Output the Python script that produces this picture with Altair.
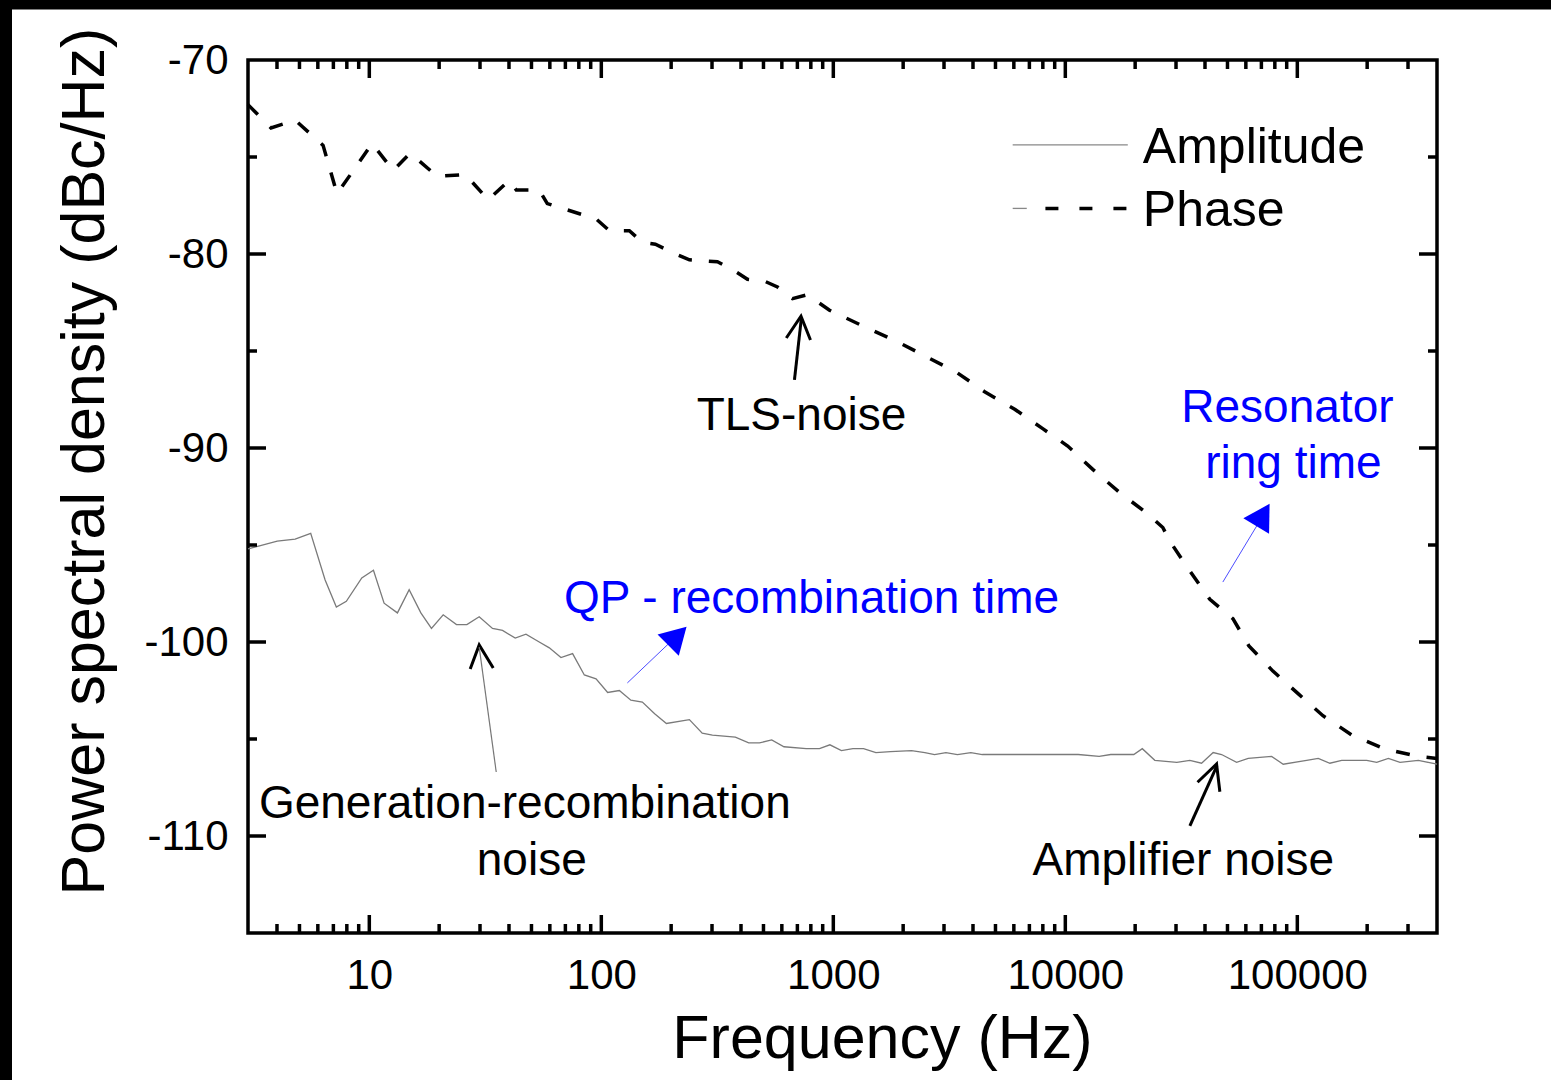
import altair as alt
import pandas as pd

FONT = "Liberation Sans, Arial, Helvetica, sans-serif"
W, H = 1189, 873
XDOM = [3, 400000]
YDOM = [-115, -70]

# ---------------- data ----------------
amp_f = [3.00, 3.24, 4.01, 4.79, 5.59, 6.45, 7.21, 7.96, 9.28, 10.42,
         11.58, 13.22, 14.85, 16.68, 18.53, 20.82, 23.75, 26.34, 29.76, 33.97,
         37.52, 42.56, 47.34, 54.0, 59.7, 67.0, 75.2, 84.5, 94.9, 106.5,
         119.6, 134.1, 150.3, 169.8, 190.8, 239.7, 272.2, 301.2, 378.2, 431.9,
         480.3, 542.5, 612.9, 764.2, 871.9, 966.7, 1084, 1215, 1350, 1526,
         1764, 2173, 2481, 2731, 3058, 3427, 3915, 4389, 5306, 6421,
         7755, 9385, 11360, 13990, 15700, 19730, 21470, 24310, 30240, 34420,
         38660, 43380, 47160, 54730, 61420, 77480, 86940, 109700, 123100, 138200,
         155300, 199100, 219900, 246800, 277100, 332400, 400000]
amp_db = [-95.2, -95.1, -94.8, -94.7, -94.4, -96.8, -98.2, -97.9, -96.7, -96.3,
          -98.0, -98.5, -97.3, -98.5, -99.3, -98.6, -99.1, -99.1, -98.7, -99.3,
          -99.4, -99.8, -99.6, -100.0, -100.3, -100.8, -100.6, -101.7, -101.9, -102.6,
          -102.5, -103.0, -103.1, -103.7, -104.2, -104.0, -104.7, -104.8, -104.9, -105.2,
          -105.2, -105.05, -105.4, -105.5, -105.5, -105.3, -105.6, -105.5, -105.5, -105.7,
          -105.65, -105.6, -105.7, -105.8, -105.7, -105.8, -105.7, -105.8, -105.8, -105.8,
          -105.8, -105.8, -105.8, -105.9, -105.8, -105.8, -105.5, -106.1, -106.2, -106.1,
          -106.25, -105.7, -105.8, -106.2, -106.0, -105.9, -106.3, -106.1, -106.0, -106.25,
          -106.1, -106.1, -106.2, -106.0, -106.2, -106.1, -106.3]

ph_f = [3.0, 3.77, 4.79, 6.32, 7.26, 10.28, 12.67, 15.0, 19.61, 25.9,
        32.54, 40.1, 43.0, 54.0, 58.5, 95.2, 108.3, 132.1, 150.3, 171.0,
        200.4, 239.7, 316.5, 367.4, 426.5, 505.0, 574.4, 666.8, 774.0, 962.9,
        1391, 1874, 2524, 3400, 4490, 6050, 7989, 10240, 13130, 17170,
        22670, 26320, 28210, 33750, 41980, 52770, 61840, 78480, 101600, 128970,
        172000, 236400, 331400, 400000]
ph_db = [-72.3, -73.5, -73.1, -74.4, -76.9, -74.3, -75.7, -74.8, -76.0, -75.9,
         -77.2, -76.2, -76.7, -76.7, -77.4, -78.2, -78.8, -78.8, -79.4, -79.5,
         -79.9, -80.3, -80.4, -80.8, -81.3, -81.4, -81.7, -82.3, -82.1, -82.9,
         -83.8, -84.5, -85.3, -86.1, -87.1, -88.0, -89.0, -89.9, -91.1, -92.3,
         -93.4, -94.1, -94.8, -96.2, -97.8, -98.8, -100.2, -101.5, -102.7, -103.8,
         -104.8, -105.5, -105.9, -106.0]

x_labels = [10, 100, 1000, 10000, 100000]
x_minor = [4, 5, 6, 7, 8, 9, 20, 30, 40, 50, 60, 70, 80, 90,
           200, 300, 400, 500, 600, 700, 800, 900,
           2000, 3000, 4000, 5000, 6000, 7000, 8000, 9000,
           20000, 30000, 40000, 50000, 60000, 70000, 80000, 90000,
           200000, 300000]
y_labels = [-70, -80, -90, -100, -110]
y_major = [-80, -90, -100, -110]
y_minor = [-75, -85, -95, -105]

# annotations (data coordinates)
black_text = ["TLS-noise", "Generation-recombination", "noise", "Amplifier noise"]
black_text_f = [729.2, 46.8, 50.13, 32260]
black_text_db = [-89.07, -109.07, -112.01, -112.01]

blue_text = ["QP - recombination time", "Resonator", "ring time"]
blue_text_f = [805.4, 90640, 96200]
blue_text_db = [-98.52, -88.64, -91.55]

legend_text = ["Amplitude", "Phase"]
legend_text_f = [21580, 21580]
legend_text_db = [-75.31, -78.56]

# arrow polylines: (group, f, dB)
black_arrows = [
    ("tls_shaft", 680.0, -86.49), ("tls_shaft", 729.2, -83.25),
    ("tls_head", 627.1, -84.33), ("tls_head", 725.6, -83.20), ("tls_head", 797.1, -84.43),
    ("gr_head", 27.22, -101.39), ("gr_head", 29.76, -100.15), ("gr_head", 34.21, -101.34),
    ("amp_shaft", 34420, -109.48), ("amp_shaft", 45010, -106.39),
    ("amp_head", 37150, -107.23), ("amp_head", 44870, -106.29), ("amp_head", 46360, -107.72),
]
gray_arrows = [("gr_shaft", 35.24, -106.70), ("gr_shaft", 29.76, -100.26)]
blue_arrows = [("qp_shaft", 129.5, -102.11), ("qp_shaft", 196.5, -100.05),
               ("res_shaft", 47750, -96.91), ("res_shaft", 67610, -93.92)]
blue_heads_f = [212.7, 71060]
blue_heads_db = [-99.69, -93.45]
blue_heads_angle = [45, 31]

# legend sample lines
leg_amp = {"f": 5931, "f2": 18590, "db": -74.38}
leg_ph_gray = {"f": 5931, "f2": 6821, "db": -77.65}
leg_ph_dash = {"f": 8208, "f2": 18590, "db": -77.65}

# ---------------- chart ----------------
xs = alt.Scale(type="log", domain=XDOM, nice=False)
ys = alt.Scale(domain=YDOM, nice=False, zero=False)

x_axis = alt.Axis(
    values=x_labels, labelExpr="'' + datum.value", title="Frequency (Hz)",
    labelFont=FONT, labelFontSize=42, labelColor="black", labelPadding=22,
    labelFlush=False, labelOverlap=False,
    ticks=False, tickSize=0, domain=False, grid=False,
    titleFont=FONT, titleFontSize=61, titleFontWeight="normal", titleColor="black",
    titleX=634, titleY=124, titleBaseline="alphabetic", titleAlign="center",
)
y_axis = alt.Axis(
    values=y_labels, labelExpr="'' + datum.value", title="Power spectral density (dBc/Hz)",
    labelFont=FONT, labelFontSize=42, labelColor="black", labelPadding=20,
    labelOverlap=False, ticks=False, tickSize=0, domain=False, grid=False,
    titleFont=FONT, titleFontSize=61, titleFontWeight="normal", titleColor="black",
    titleX=-145, titleY=401, titleAngle=270, titleBaseline="alphabetic", titleAlign="center",
)

def X(field="f"):
    return alt.X(f"{field}:Q", scale=xs, axis=x_axis)

def Y(field="db"):
    return alt.Y(f"{field}:Q", scale=ys, axis=y_axis)

layers = []

# black strips along left and top edges of the picture
one = alt.Data(values=[{"k": 1}])
layers.append(alt.Chart(one).mark_rect(color="black").encode(
    x=alt.value(-248), x2=alt.value(-236), y=alt.value(-60), y2=alt.value(1020)))
layers.append(alt.Chart(one).mark_rect(color="black").encode(
    x=alt.value(-248), x2=alt.value(1303), y=alt.value(-60), y2=alt.value(-50.5)))

# data lines
amp = pd.DataFrame({"f": amp_f, "db": amp_db})
ph = pd.DataFrame({"f": ph_f, "db": ph_db})
layers.append(alt.Chart(amp).mark_line(color="#7a7a7a", strokeWidth=1.3).encode(x=X(), y=Y()))
layers.append(alt.Chart(ph).mark_line(color="black", strokeWidth=3.5, strokeDash=[14, 17]).encode(
    x=X(), y=Y()))

# ticks (inward, on all four sides)
for vals, ln in [(x_labels, 18), (x_minor, 9)]:
    d = pd.DataFrame({"f": vals})
    base = alt.Chart(d).mark_rule(color="black", strokeWidth=3.5)
    layers.append(base.encode(x=X(), y=alt.value(H), y2=alt.value(H - ln)))
    layers.append(base.encode(x=X(), y=alt.value(0), y2=alt.value(ln)))
for vals, ln in [(y_major, 18), (y_minor, 9)]:
    d = pd.DataFrame({"db": vals})
    base = alt.Chart(d).mark_rule(color="black", strokeWidth=3.5)
    layers.append(base.encode(y=Y(), x=alt.value(0), x2=alt.value(ln)))
    layers.append(base.encode(y=Y(), x=alt.value(W), x2=alt.value(W - ln)))

# arrows
def arrow_df(rows):
    return pd.DataFrame([{"g": g, "i": i, "f": f, "db": db} for i, (g, f, db) in enumerate(rows)])

layers.append(alt.Chart(arrow_df(black_arrows)).mark_line(color="black", strokeWidth=3).encode(
    x=X(), y=Y(), detail="g:N", order="i:Q"))
layers.append(alt.Chart(arrow_df(gray_arrows)).mark_line(color="#777777", strokeWidth=1.2).encode(
    x=X(), y=Y(), detail="g:N", order="i:Q"))
layers.append(alt.Chart(arrow_df(blue_arrows)).mark_line(color="#0000ff", strokeWidth=1, opacity=0.7).encode(
    x=X(), y=Y(), detail="g:N", order="i:Q"))
heads = pd.DataFrame({"f": blue_heads_f, "db": blue_heads_db, "a": blue_heads_angle})
layers.append(alt.Chart(heads).mark_point(shape="triangle-up", filled=True, color="#0000ff",
                                           opacity=1, size=900, strokeWidth=0).encode(
    x=X(), y=Y(), angle=alt.Angle("a:Q", scale=None)))

# texts
bt = pd.DataFrame({"t": black_text, "f": black_text_f, "db": black_text_db})
layers.append(alt.Chart(bt).mark_text(font=FONT, fontSize=46, color="black", align="center",
                                      baseline="alphabetic").encode(x=X(), y=Y(), text="t:N"))
bl = pd.DataFrame({"t": blue_text, "f": blue_text_f, "db": blue_text_db})
layers.append(alt.Chart(bl).mark_text(font=FONT, fontSize=46, color="#0000ff", align="center",
                                      baseline="alphabetic").encode(x=X(), y=Y(), text="t:N"))

# legend
lt = pd.DataFrame({"t": legend_text, "f": legend_text_f, "db": legend_text_db})
layers.append(alt.Chart(lt).mark_text(font=FONT, fontSize=50, color="black", align="left",
                                      baseline="alphabetic").encode(x=X(), y=Y(), text="t:N"))
layers.append(alt.Chart(pd.DataFrame([leg_amp, leg_ph_gray])).mark_rule(color="#888888", strokeWidth=1.3).encode(
    x=X(), x2="f2:Q", y=Y()))
layers.append(alt.Chart(pd.DataFrame([leg_ph_dash])).mark_rule(color="black", strokeWidth=3.5,
                                                               strokeDash=[13, 21]).encode(
    x=X(), x2="f2:Q", y=Y()))

chart = alt.layer(*layers).properties(
    width=W, height=H,
    autosize=alt.AutoSizeParams(type="none"),
    padding={"left": 248, "top": 60, "right": 114, "bottom": 147},
    background="white",
).configure_view(stroke="black", strokeWidth=3.5)

chart.save("out.html", embed_options={"renderer": "svg", "actions": False})
